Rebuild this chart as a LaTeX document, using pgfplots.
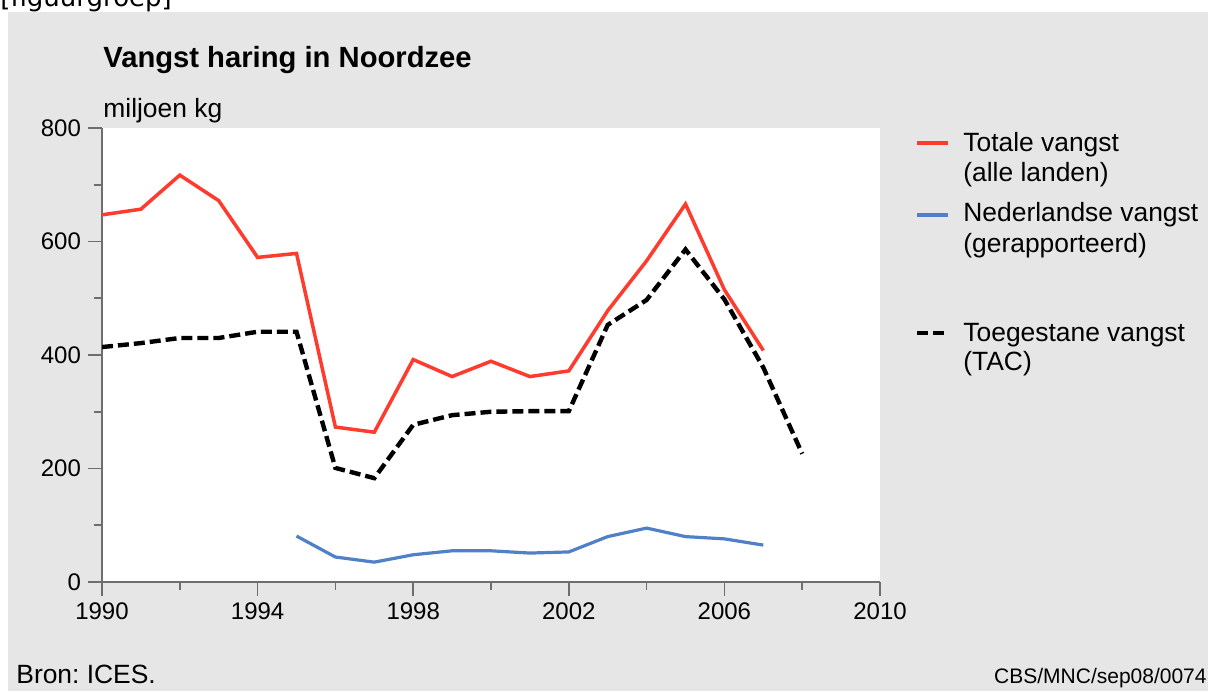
\documentclass[border=0pt]{standalone}
\usepackage{fontspec}
\setmainfont{Liberation Sans}
\newfontfamily\dejavu{DejaVu Sans}
\usepackage{pgfplots}
\pgfplotsset{compat=1.18}
\definecolor{panel}{HTML}{E6E6E6}
\definecolor{totred}{HTML}{FF3B2E}
\definecolor{nlblue}{HTML}{4F80C8}
\definecolor{axgray}{HTML}{6E6E6E}
\frenchspacing

\begin{document}
\begin{tikzpicture}[x=0.5pt,y=0.5pt]
\useasboundingbox (0,0) rectangle (1208,691);
\fill[white] (0,0) rectangle (1208,691);
\node[anchor=base west, inner sep=0, font=\dejavu\fontsize{13}{15}\selectfont] at (0,684) {[figuurgroep]};
\fill[panel] (8,0) rectangle (1208,679);

% titles
\node[anchor=base west, inner sep=0, font=\bfseries\fontsize{14.6}{17}\selectfont] at (103,623) {Vangst haring in Noordzee};
\node[anchor=base west, inner sep=0, font=\fontsize{13.2}{15}\selectfont] at (103,573) {miljoen kg};

\begin{axis}[
    at={(51pt,54.5pt)}, anchor=south west,
    scale only axis, width=389pt, height=227pt,
    xmin=1990, xmax=2010, ymin=0, ymax=800,
    axis x line*=bottom, axis y line*=left,
    axis line style={draw=axgray, line width=0.9pt, -},
    axis background/.style={fill=white},
    xtick={1990,1994,...,2010},
    minor xtick={1992,1996,...,2008},
    ytick={0,200,...,800},
    minor ytick={100,300,500,700},
    tick align=outside,
    major tick length=7pt, minor tick length=4pt,
    every tick/.style={draw=axgray, line width=0.8pt},
    tick label style={font=\fontsize{12}{14}\selectfont, text=black},
    /pgf/number format/assume math mode=true,
    xticklabel style={/pgf/number format/1000 sep={}},
]
\addplot[totred, line width=1.75pt] coordinates {
    (1990,647) (1991,657) (1992,717) (1993,672) (1994,572) (1995,579)
    (1996,273) (1997,264) (1998,392) (1999,362) (2000,389) (2001,362)
    (2002,372) (2003,478) (2004,566) (2005,666) (2006,515) (2007,408)
};
\addplot[black, line width=2.2pt, dash pattern=on 5.5pt off 2.5pt] coordinates {
    (1990,414) (1991,421) (1992,430) (1993,430) (1994,441) (1995,441)
    (1996,201) (1997,183) (1998,277) (1999,294) (2000,300) (2001,301)
    (2002,301) (2003,453) (2004,497) (2005,586) (2006,498) (2007,378)
    (2008,226)
};
\addplot[nlblue, line width=1.6pt] coordinates {
    (1995,81) (1996,44) (1997,35) (1998,48) (1999,55) (2000,55)
    (2001,51) (2002,53) (2003,80) (2004,95) (2005,80) (2006,76)
    (2007,65)
};
\end{axis}

% legend
\begin{scope}[every node/.style={anchor=base west, inner sep=0, font=\fontsize{13.2}{15}\selectfont}]
\draw[totred, line width=1.75pt] (917,548) -- (948,548);
\node at (963,539) {Totale vangst};
\node at (963,509) {(alle landen)};
\draw[nlblue, line width=1.75pt] (917,476) -- (948,476);
\node at (963,469) {Nederlandse vangst};
\node at (963,438) {(gerapporteerd)};
\draw[black, line width=2.2pt, dash pattern=on 5.5pt off 2.5pt] (917,358) -- (946,358);
\node at (963,349) {Toegestane vangst};
\node at (963,321) {(TAC)};
\end{scope}

% footer
\node[anchor=base west, inner sep=0, font=\fontsize{13.2}{15}\selectfont] at (16,8) {Bron: ICES.};
\node[anchor=base east, inner sep=0, font=\fontsize{10.5}{12}\selectfont] at (1207,8) {CBS/MNC/sep08/0074};
\end{tikzpicture}
\end{document}
